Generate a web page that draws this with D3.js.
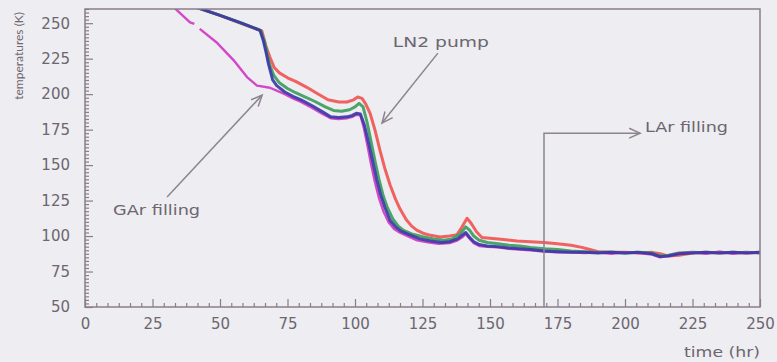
<!DOCTYPE html>
<html>
<head>
<meta charset="utf-8">
<script src="https://cdn.jsdelivr.net/npm/d3@7/dist/d3.min.js"></script>
<style>
  html, body { margin: 0; padding: 0; background: #eeedf1; }
  svg { display: block; }
</style>
</head>
<body>
<svg id="chart" width="777" height="362"></svg>
<script>
// ─── Data ─────────────────────────────────────────────────────────────────────

const redTime = [40, 50, 58, 65.5, 67, 68.5, 70, 72, 75, 78, 82, 86, 90, 94, 97, 99.5, 101, 102.6, 104, 105.6, 107.5, 109.3, 111, 113, 115, 116.7, 119, 121, 123, 125.2, 128, 131.5, 135, 137.8, 139.5, 141.5, 143, 145, 147, 150, 155, 160, 165, 170, 175, 180, 184, 187, 190, 195, 200, 205, 210, 213, 216, 220, 225, 230, 235, 240, 245, 250];
const redTemp = [262, 255.5, 249.8, 244.5, 234, 226, 219, 215, 211.5, 209, 205, 200.5, 196, 194.5, 194.5, 196, 198, 197, 193, 186.5, 174, 160, 148, 136, 126, 119, 111.5, 107, 104, 102, 100.5, 99.3, 100, 101, 106, 112.5, 109, 103, 99, 98.5, 97.5, 96.5, 96, 95.5, 94.5, 93.5, 92, 90.5, 89, 88.5, 88.5, 88, 88.5, 87.5, 86, 86.5, 88, 88.5, 88, 88.5, 88, 88.5];

const greenTime = [40, 50, 58, 65, 66.5, 67.5, 68.5, 70, 72, 75, 78, 81, 85, 89, 92, 95, 98, 100, 101.5, 103, 104.5, 106, 107.5, 109, 110.5, 112, 114, 116, 118, 121, 125, 129, 133, 136, 139, 141, 142.5, 144, 146, 149, 153, 157, 161, 165, 170, 175, 180, 185, 190, 195, 200, 205, 210, 213, 216, 220, 225, 230, 235, 240, 245, 250];
const greenTemp = [262, 255.5, 250, 245, 237, 228, 220, 213, 208, 204, 201, 198.5, 195, 191, 188.5, 188, 189, 191, 193.5, 191, 180, 166, 152, 139, 128, 120, 112, 107, 104, 101.5, 99.5, 98, 97, 98, 101.5, 106.5, 104, 100, 97, 95.5, 94.5, 93.5, 93, 92, 91, 90.5, 89.5, 89, 88.5, 88.5, 88, 88.5, 88, 86, 86.5, 88, 88.5, 88, 88.5, 88, 88.5, 88];

const blueTime = [40, 50, 58, 64.8, 66, 67, 68, 69.5, 71, 74, 77, 80, 84, 88, 91, 94, 97, 99, 100.5, 102, 103.5, 105, 106.5, 108, 109.5, 111, 113, 115, 117, 120, 124, 128, 132, 135, 138, 140, 141, 142.5, 144, 146, 149, 153, 157, 161, 165, 170, 175, 180, 185, 190, 195, 200, 205, 210, 213, 216, 220, 225, 230, 235, 240, 245, 250];
const blueTemp = [262, 255.5, 250, 245, 238, 230, 221, 210, 206, 201.5, 198.5, 196, 192, 187.5, 184, 183.5, 184, 185, 186.5, 186, 178, 166, 153, 140, 129, 120.5, 111, 106.5, 103.5, 101, 98, 96.5, 95.5, 96, 98, 101, 102.5, 99, 96, 94, 93, 92.5, 91.5, 91, 90.5, 89.5, 89, 88.5, 88.5, 88, 88.5, 88, 88.5, 87.5, 85.5, 86, 87.5, 88, 88.5, 88, 88.5, 88, 88.5];

// null marks the small break in the early magenta trace
const magentaTime = [33, 38.9, 40.5, 41.5, 42.5, 49, 55, 60, 63.7, 68.5, 71, 74, 77, 80, 84, 88, 91, 94, 97, 99, 100.5, 102, 103.3, 104.7, 106, 107.5, 109, 110.5, 112.5, 114.5, 116.5, 119.5, 123, 127, 131, 135, 138, 140, 141, 142.5, 144, 146, 149, 153, 157, 161, 165, 170, 175, 180, 185, 190, 195, 200, 205, 210, 213, 216, 220, 225, 230, 235, 240, 245, 250];
const magentaTemp = [261, 250.5, 249.5, null, 246, 236, 224, 212, 206, 204.5, 202.5, 200, 197, 194.5, 190.5, 186, 183, 182.5, 183, 184, 185.5, 185, 176, 163, 150, 137, 126, 117.5, 109.5, 105, 102.5, 100, 97, 95.5, 94.5, 95, 97, 99.5, 101.5, 98, 95, 93, 92.5, 92, 91, 90.5, 90, 89, 88.5, 88.5, 88, 88.5, 87.5, 88.5, 88, 87, 85, 86, 88, 88.5, 87.5, 89, 87.5, 88.5, 88];

const seriesNames = ["red", "green", "magenta", "blue"];
const seriesColors = ["#ef5652", "#3f9d5e", "#d03ac6", "#3b3aa6"];

const yMajorTicks = [50, 75, 100, 125, 150, 175, 200, 225, 250];
const xMajorTicks = [0, 25, 50, 75, 100, 125, 150, 175, 200, 225, 250];

// annotations, in data units (time hr, temperature K)
const annotationLabels = ["GAr filling", "LN2 pump", "LAr filling"];
const annotationTextAt = [[10.4, 114.5], [114, 233], [207.4, 173]];
const annotationTextLen = [87, 96, 83];
const annotationPaths = [
    [[30.4, 127.5], [65.6, 199.3]],
    [[130.7, 228.9], [110, 179.6]],
    [[170, 50], [170, 172.5], [205.6, 172.5]]
];

// ─── Layout ───────────────────────────────────────────────────────────────────

const svg = d3.select("#chart");
const frameColor = "#8a7d8a";
const textColor = "#6c6670";
const fontFamily = "'DejaVu Sans', sans-serif";

const x = d3.scaleLinear().domain([0, 250]).range([85, 760]);
const y = d3.scaleLinear().domain([50, 260]).range([307, 9]);

svg.append("rect")
    .attr("width", 777).attr("height", 362)
    .attr("fill", "#eeedf1");

svg.append("defs").append("clipPath").attr("id", "plot-clip")
    .append("rect")
    .attr("x", x(0)).attr("y", y(260))
    .attr("width", x(250) - x(0)).attr("height", y(50) - y(260));

// ─── Curves ───────────────────────────────────────────────────────────────────

const allSeries = {
    red: d3.zip(redTime, redTemp),
    green: d3.zip(greenTime, greenTemp),
    magenta: d3.zip(magentaTime, magentaTemp),
    blue: d3.zip(blueTime, blueTemp)
};

const line = d3.line()
    .defined(d => d[1] != null)
    .x(d => x(d[0]))
    .y(d => y(d[1]))
    .curve(d3.curveLinear);

const curves = svg.append("g").attr("clip-path", "url(#plot-clip)");
seriesNames.forEach((name, i) => {
    curves.append("path")
        .datum(allSeries[name])
        .attr("fill", "none")
        .attr("stroke", seriesColors[i])
        .attr("stroke-width", name === "magenta" ? 2.4 : 3)
        .attr("stroke-linejoin", "round")
        .attr("stroke-opacity", 0.92)
        .attr("d", line);
});

// ─── Frame & axes ─────────────────────────────────────────────────────────────

svg.append("rect")
    .attr("x", x(0)).attr("y", y(260))
    .attr("width", x(250) - x(0)).attr("height", y(50) - y(260))
    .attr("fill", "none")
    .attr("stroke", frameColor)
    .attr("stroke-width", 1.5);

const yMinor = d3.range(50, 260.1, 2.5).filter(v => v % 25 !== 0);
const xMinor = [];
xMajorTicks.slice(0, -1).forEach(t => {
    for (let k = 1; k < 6; k++) xMinor.push(t + k * 25 / 6);
});

function styleAxis(g) {
    g.select(".domain").remove();
    g.selectAll("line").attr("stroke", frameColor).attr("stroke-width", 1.2);
    g.selectAll("text")
        .attr("fill", textColor)
        .style("font-family", fontFamily)
        .style("font-size", "15px");
}

svg.append("g")
    .attr("transform", `translate(${x(0)},0)`)
    .call(d3.axisLeft(y).tickValues(yMinor).tickSize(-4).tickFormat(""))
    .call(styleAxis);

svg.append("g")
    .attr("transform", `translate(${x(0)},0)`)
    .call(d3.axisLeft(y).tickValues(yMajorTicks).tickSize(-8).tickPadding(15))
    .call(styleAxis);

svg.append("g")
    .attr("transform", `translate(0,${y(50)})`)
    .call(d3.axisBottom(x).tickValues(xMinor).tickSize(-4).tickFormat(""))
    .call(styleAxis);

svg.append("g")
    .attr("transform", `translate(0,${y(50)})`)
    .call(d3.axisBottom(x).tickValues(xMajorTicks).tickSize(-8).tickPadding(11))
    .call(styleAxis);

svg.append("text")
    .attr("transform", "translate(23,12) rotate(-90)")
    .attr("text-anchor", "end")
    .attr("fill", textColor)
    .style("font-family", "Lato, sans-serif")
    .style("font-size", "12px")
    .text("temperatures (K)");

svg.append("text")
    .attr("x", 684).attr("y", 357)
    .attr("textLength", 76)
    .attr("lengthAdjust", "spacingAndGlyphs")
    .attr("fill", textColor)
    .style("font-family", fontFamily)
    .style("font-size", "14px")
    .text("time (hr)");

// ─── Annotations ──────────────────────────────────────────────────────────────

const arrowColor = "#8c8490";
const annot = svg.append("g");

annotationPaths.forEach(pts => {
    const px = pts.map(p => [x(p[0]), y(p[1])]);
    annot.append("path")
        .attr("d", d3.line()(px))
        .attr("fill", "none")
        .attr("stroke", arrowColor)
        .attr("stroke-width", 1.5);

    // open arrowhead at the last point
    const [x0, y0] = px[px.length - 2];
    const [x1, y1] = px[px.length - 1];
    const ang = Math.atan2(y1 - y0, x1 - x0);
    const len = 12, spread = 0.42;
    const head = [
        [x1 - len * Math.cos(ang - spread), y1 - len * Math.sin(ang - spread)],
        [x1, y1],
        [x1 - len * Math.cos(ang + spread), y1 - len * Math.sin(ang + spread)]
    ];
    annot.append("path")
        .attr("d", d3.line()(head))
        .attr("fill", "none")
        .attr("stroke", arrowColor)
        .attr("stroke-width", 1.5);
});

annotationLabels.forEach((label, i) => {
    annot.append("text")
        .attr("x", x(annotationTextAt[i][0]))
        .attr("y", y(annotationTextAt[i][1]))
        .attr("textLength", annotationTextLen[i])
        .attr("lengthAdjust", "spacingAndGlyphs")
        .attr("fill", textColor)
        .style("font-family", fontFamily)
        .style("font-size", "14px")
        .text(label);
});
</script>
</body>
</html>
